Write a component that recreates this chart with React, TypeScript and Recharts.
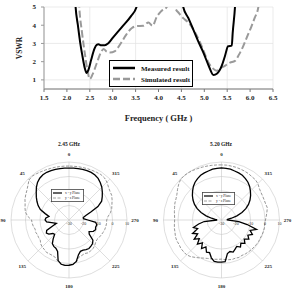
import {
  LineChart,
  Line,
  XAxis,
  YAxis,
  CartesianGrid,
  Legend,
  RadarChart,
  Radar,
  PolarGrid,
  PolarAngleAxis,
  PolarRadiusAxis,
} from 'recharts';

const SERIF = '"Liberation Serif", "Times New Roman", serif';

// VSWR vs frequency (GHz); values above 5 run off the top of the plot
const FREQ_TICKS = [1.5, 2.0, 2.5, 3.0, 3.5, 4.0, 4.5, 5.0, 5.5, 6.0, 6.5];
const VSWR_TICKS = [1, 2, 3, 4, 5];

const measured = [
  { f: 2.15, v: 7 }, { f: 2.19, v: 5.0 }, { f: 2.24, v: 4.0 }, { f: 2.29, v: 3.05 },
  { f: 2.34, v: 2.3 }, { f: 2.39, v: 1.65 }, { f: 2.43, v: 1.38 }, { f: 2.47, v: 1.55 },
  { f: 2.53, v: 2.1 }, { f: 2.6, v: 2.7 }, { f: 2.65, v: 2.92 }, { f: 2.69, v: 2.95 },
  { f: 2.75, v: 2.9 }, { f: 2.83, v: 2.9 }, { f: 2.9, v: 3.0 }, { f: 3.0, v: 3.3 },
  { f: 3.2, v: 3.9 }, { f: 3.4, v: 4.5 }, { f: 3.52, v: 5.0 }, { f: 3.6, v: 7 },
  { f: 4.45, v: 7 }, { f: 4.54, v: 5.0 }, { f: 4.65, v: 4.4 }, { f: 4.76, v: 3.76 },
  { f: 4.87, v: 3.1 }, { f: 4.98, v: 2.5 }, { f: 5.1, v: 1.75 }, { f: 5.2, v: 1.27 },
  { f: 5.28, v: 1.35 }, { f: 5.38, v: 1.77 }, { f: 5.45, v: 2.3 }, { f: 5.52, v: 2.85 },
  { f: 5.6, v: 2.88 }, { f: 5.62, v: 3.58 }, { f: 5.67, v: 5.0 }, { f: 5.71, v: 7 },
];

const simulated = [
  { f: 2.23, v: 7 }, { f: 2.27, v: 5.0 }, { f: 2.33, v: 3.6 }, { f: 2.4, v: 2.3 },
  { f: 2.45, v: 1.5 }, { f: 2.5, v: 1.05 }, { f: 2.56, v: 1.3 }, { f: 2.65, v: 1.9 },
  { f: 2.75, v: 2.55 }, { f: 2.8, v: 2.7 }, { f: 2.87, v: 2.55 }, { f: 2.94, v: 2.5 },
  { f: 3.05, v: 2.58 }, { f: 3.15, v: 2.9 }, { f: 3.3, v: 3.5 }, { f: 3.42, v: 3.85 },
  { f: 3.52, v: 3.95 }, { f: 3.67, v: 3.97 }, { f: 3.78, v: 4.15 }, { f: 3.87, v: 3.97 },
  { f: 3.96, v: 4.45 }, { f: 4.05, v: 4.75 }, { f: 4.18, v: 5.0 }, { f: 4.25, v: 7 },
  { f: 4.3, v: 7 }, { f: 4.36, v: 5.0 }, { f: 4.45, v: 4.65 }, { f: 4.54, v: 4.39 },
  { f: 4.63, v: 4.2 }, { f: 4.72, v: 3.94 }, { f: 4.82, v: 3.5 }, { f: 4.91, v: 3.04 },
  { f: 5.0, v: 2.5 }, { f: 5.09, v: 1.96 }, { f: 5.18, v: 1.65 }, { f: 5.27, v: 1.5 },
  { f: 5.36, v: 1.65 }, { f: 5.45, v: 1.77 }, { f: 5.56, v: 1.95 }, { f: 5.67, v: 2.04 },
  { f: 5.76, v: 2.4 }, { f: 5.85, v: 2.85 }, { f: 5.94, v: 3.4 }, { f: 6.03, v: 3.94 },
  { f: 6.1, v: 4.4 }, { f: 6.18, v: 5.0 }, { f: 6.22, v: 7 },
];

// radiation patterns (dB), angle 0..355 step 5, counter-clockwise from top
const ANGLES = Array.from({ length: 72 }, (_, i) => i * 5);
const ANGLE_TICKS = [0, 45, 90, 135, 180, 225, 270, 315];
const RADIUS_TICKS = [-30, -20, -10, 0, 10];

const XY_245 = [
  5.8, 5.9, 6.0, 6.1, 6.2, 6.3, 6.0, 5.2, 3.8, 1.8, -0.5, -2.5,
  -4.5, -6.5, -9, -13, -16, -14, -13.5, -14.5, -19, -21, -18, -13,
  -12, -13, -15.5, -16, -13, -10, -9, -8.5, -7, -1, 1, 1.4,
  1.2, 0.8, -1, -5, -7, -7, -6.5, -6, -6.5, -7, -8.5, -13,
  -14, -11.5, -10.5, -11, -10.5, -11.5, -17, -20, -20, -18, -14, -8,
  -4, -2, 0, 2, 3.6, 5, 5.8, 6.2, 6.2, 6.1, 6.0, 5.9,
];

const YZ_245 = [
  7.2, 7.3, 7.4, 7.6, 7.8, 8.1, 8.5, 9.0, 9.5, 9.0, 7.0, 5.5,
  4.5, 3.5, 2.2, 1.4, 0.5, -1.5, -4.2, -4.5, -5, -5.8, -5.5, -6,
  -5.8, -5.8, -4.5, -3.8, -3.5, -2.8, -3, -3, -2.5, -0.5, 1, 1.5,
  1.3, 0.8, -0.5, -3.5, -4, -4.5, -3.8, -4, -4.2, -5, -6, -6.5,
  -6, -5.5, -5, -4.5, -4.2, -4, -4, -3, -1, 0.5, 1.5, 2.8,
  4, 4.5, 5.5, 7, 8, 8.3, 8, 7.8, 7.6, 7.4, 7.3, 7.2,
];

const XY_520 = [
  5.9, 5.8, 5.6, 5.0, 4.6, 4.0, 3.0, 1.8, 0.2, -1.8, -3.8, -6,
  -8.5, -11.5, -15, -19, -23, -26, -27, -18, -14, -10, -12.5, -8,
  -11, -7, -10, -6.5, -9.5, -6, -8.5, -5.5, -6, -3, -1, -0.8,
  -1, -1.2, -6.5, -7.5, -6.5, -7.8, -9, -7.2, -9.2, -7.2, -9.5, -7,
  -9, -6.5, -9, -5, -12, -18, -26, -26, -23, -19, -15, -11.5,
  -8.5, -6, -3.8, -1.8, 0.2, 1.8, 3.0, 4.0, 4.6, 5.0, 5.6, 5.8,
];

const YZ_520 = [
  8, 8.1, 8.3, 8.5, 8.8, 9.1, 9.5, 9.8, 10, 9.8, 8.5, 7,
  5.5, 4.6, 4.2, 3.5, 3, 2.5, 2.3, 2.6, 3, 3.2, 3.8, 4,
  3.8, 4.2, 4.1, 4, 3, 1.5, 0.2, -1, -1.8, -2.2, -2.5, -2.8,
  -3, -2.6, -2.2, -1.8, -2, -1.5, -1.8, -1.4, -1.2, -1, -0.8, -0.6,
  -0.4, -0.5, -0.2, 0, 0.1, -0.1, 0.3, 1, 1.8, 2.7, 2.4, 2.5,
  2.8, 3.2, 4, 5.5, 6.3, 6.5, 7, 7.3, 7.5, 7.7, 7.8, 8,
];

const pattern245 = ANGLES.map((angle, i) => ({ angle, xy: XY_245[i], yz: YZ_245[i] }));
const pattern520 = ANGLES.map((angle, i) => ({ angle, xy: XY_520[i], yz: YZ_520[i] }));

const VswrLegend = () => (
  <div
    style={{
      position: 'absolute',
      left: 109,
      top: 60,
      width: 84,
      height: 27,
      boxSizing: 'border-box',
      border: '1.5px solid #000',
      background: '#fff',
    }}
  >
    <svg width={81} height={24} style={{ display: 'block' }}>
      <line x1={3} y1={7} x2={25} y2={7} stroke="#000" strokeWidth={2.5} />
      <line x1={3} y1={18} x2={25} y2={18} stroke="#999" strokeWidth={2.5} strokeDasharray="7 3" />
      <g fontFamily={SERIF} fontWeight="bold" fontSize={7} fill="#111">
        <text x={31} y={9.5}>Measured result</text>
        <text x={31} y={20.5}>Simulated result</text>
      </g>
    </svg>
  </div>
);

const PlaneLegend = () => (
  <svg width={33} height={13} style={{ display: 'block' }}>
    <rect x={0.4} y={0.4} width={32.2} height={12.2} fill="#fff" stroke="#444" strokeWidth={0.8} />
    <line x1={2} y1={4} x2={11} y2={4} stroke="#000" strokeWidth={1.2} />
    <line x1={2} y1={9} x2={11} y2={9} stroke="#888" strokeWidth={0.8} strokeDasharray="3 1.5" />
    <g fontFamily={SERIF} fontSize={3.5} fill="#222">
      <text x={14} y={5.3}>x - y Plane</text>
      <text x={14} y={10.3}>y - z Plane</text>
    </g>
  </svg>
);

const AngleTick = (props: any) => {
  const { x, y, payload } = props;
  return (
    <text
      x={x}
      y={y}
      textAnchor="middle"
      dominantBaseline="central"
      fontSize={5}
      fontWeight="bold"
      fontFamily={SERIF}
      fill="#222"
    >
      {payload.value}
    </text>
  );
};

const RadiusTick = (props: any) => {
  const { x, y, payload } = props;
  return (
    <text x={x} y={y + 4.5} textAnchor="middle" fontSize={4} fontFamily={SERIF} fill="#333">
      {payload.value}
    </text>
  );
};

const PolarPlot = ({ data, cx, legendLeft, legendTop }: any) => (
  <RadarChart
    width={147}
    height={159}
    data={data}
    cx={cx}
    cy={80}
    outerRadius={58}
    startAngle={90}
    endAngle={450}
    margin={{ top: 0, right: 0, bottom: 0, left: 0 }}
  >
    <PolarGrid gridType="circle" stroke="#c8c8c8" strokeWidth={0.6} />
    <PolarAngleAxis
      dataKey="angle"
      type="number"
      domain={[0, 360]}
      ticks={ANGLE_TICKS}
      tick={AngleTick}
      tickLine={false}
      tickSize={8}
      axisLine={false}
    />
    <PolarRadiusAxis
      angle={0}
      type="number"
      domain={[-30, 10]}
      ticks={RADIUS_TICKS}
      tickCount={5}
      tick={RadiusTick}
      tickLine={false}
      axisLine={false}
    />
    <Radar
      dataKey="yz"
      stroke="#8a8a8a"
      strokeWidth={0.9}
      strokeDasharray="3 1.5"
      fill="none"
      fillOpacity={0}
      dot={false}
      isAnimationActive={false}
    />
    <Radar
      dataKey="xy"
      stroke="#000"
      strokeWidth={1.3}
      fill="none"
      fillOpacity={0}
      dot={false}
      isAnimationActive={false}
    />
    <Legend
      layout="horizontal"
      verticalAlign="middle"
      align="center"
      wrapperStyle={{ left: legendLeft, top: legendTop, width: 33, height: 13 }}
      content={<PlaneLegend />}
    />
  </RadarChart>
);

const titleStyle: any = {
  position: 'absolute',
  top: 141,
  width: 60,
  textAlign: 'center',
  fontFamily: SERIF,
  fontWeight: 'bold',
  fontSize: 5.5,
  color: '#222',
};

export default function App() {
  return (
    <div
      style={{
        position: 'absolute',
        left: 0,
        top: 0,
        width: 293,
        height: 299,
        background: '#fff',
        overflow: 'hidden',
      }}
    >
      <LineChart width={293} height={125} margin={{ top: 7, right: 20, bottom: 0, left: 0 }}>
        <CartesianGrid stroke="#e2e2e2" strokeWidth={0.7} />
        <XAxis
          dataKey="f"
          type="number"
          domain={[1.5, 6.5]}
          ticks={FREQ_TICKS}
          allowDataOverflow
          tickFormatter={(v: number) => v.toFixed(1)}
          height={36}
          tickSize={3}
          tickMargin={3}
          stroke="#777"
          tick={{ fontSize: 7, fontWeight: 'bold', fontFamily: SERIF, fill: '#222' }}
          label={{
            value: 'Frequency ( GHz )',
            position: 'insideBottom',
            offset: 4,
            fontSize: 8.5,
            fontWeight: 'bold',
            fontFamily: SERIF,
            fill: '#222',
          }}
        />
        <YAxis
          type="number"
          domain={[0.5, 5]}
          ticks={VSWR_TICKS}
          allowDataOverflow
          width={44}
          tickSize={3}
          tickMargin={5}
          stroke="#999"
          tick={{ fontSize: 7, fontWeight: 'bold', fontFamily: SERIF, fill: '#222' }}
          label={{
            value: 'VSWR',
            angle: -90,
            position: 'center',
            dx: -3,
            fontSize: 7.5,
            fontWeight: 'bold',
            fontFamily: SERIF,
            fill: '#222',
          }}
        />
        <Line
          data={simulated}
          dataKey="v"
          type="monotone"
          stroke="#9a9a9a"
          strokeWidth={2}
          strokeDasharray="7 3"
          dot={false}
          isAnimationActive={false}
        />
        <Line
          data={measured}
          dataKey="v"
          type="monotone"
          stroke="#000"
          strokeWidth={2}
          dot={false}
          isAnimationActive={false}
        />
      </LineChart>
      <VswrLegend />

      <div style={{ ...titleStyle, left: 39 }}>2.45 GHz</div>
      <div style={{ ...titleStyle, left: 191 }}>5.20 GHz</div>

      <div style={{ position: 'absolute', left: 0, top: 140 }}>
        <PolarPlot data={pattern245} cx={69} legendLeft={51} legendTop={49} />
      </div>
      <div style={{ position: 'absolute', left: 146, top: 140 }}>
        <PolarPlot data={pattern520} cx={75.5} legendLeft={56} legendTop={52} />
      </div>
    </div>
  );
}
